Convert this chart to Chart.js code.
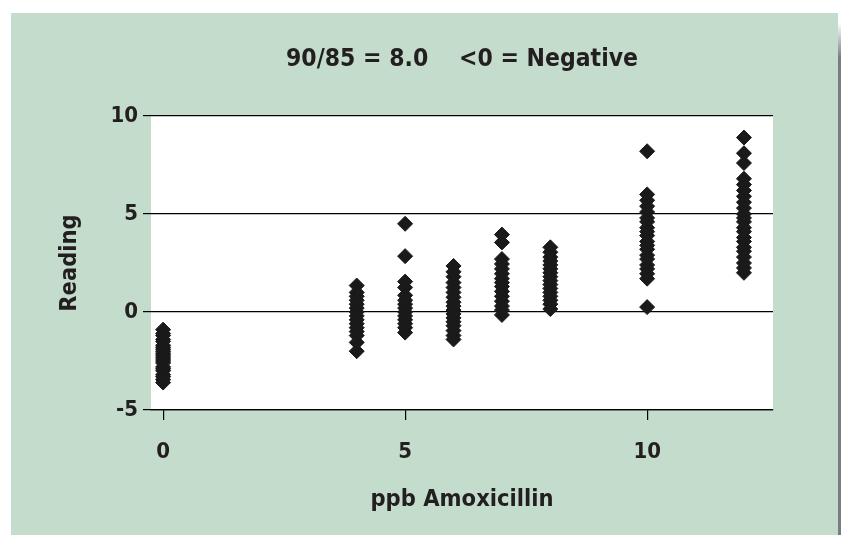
<!DOCTYPE html>
<html lang="en">
<head>
    <meta charset="UTF-8">
    <title>Reading vs ppb Amoxicillin</title>
    <script src="https://cdn.jsdelivr.net/npm/chart.js"></script>
    <style>
        body {
            margin: 0;
            background-color: #ffffff;
            width: 841px;
            height: 535px;
            overflow: hidden;
            position: relative;
        }

        .panel {
            position: absolute;
            left: 11px;
            top: 13px;
            width: 827px;
            height: 522px;
            background-color: #c3dccb;
        }

        .shadow {
            position: absolute;
            left: 838px;
            top: 13px;
            width: 3px;
            height: 522px;
            background: linear-gradient(to bottom, #ffffff 0px, #ffffff 10px, #7b7c82 45px);
        }

        .chart-box {
            position: absolute;
            left: 0;
            top: 0;
            width: 841px;
            height: 535px;
        }
    </style>
</head>
<body>
    <div class="panel"></div>
    <div class="shadow"></div>
    <div class="chart-box"><canvas id="chart"></canvas></div>
    <script>
        // ppb Amoxicillin levels and the readings measured at each
        const doses = [0, 4, 5, 6, 7, 8, 10, 12];
        const reading0 = [-0.9, -1.1, -1.2, -1.4, -1.5, -1.7, -1.8, -1.9, -2.0, -2.1, -2.2, -2.3, -2.4, -2.5, -2.6, -2.8, -2.9, -3.0, -3.2, -3.3, -3.45, -3.6];
        const reading4 = [1.35, 1.0, 0.8, 0.6, 0.4, 0.2, 0.0, -0.2, -0.4, -0.6, -0.8, -1.0, -1.2, -1.55, -2.0];
        const reading5 = [4.5, 2.85, 1.55, 1.25, 0.85, 0.6, 0.4, 0.2, 0.0, -0.2, -0.4, -0.6, -0.8, -1.05];
        const reading6 = [2.35, 2.05, 1.8, 1.5, 1.25, 1.0, 0.75, 0.5, 0.3, 0.1, -0.1, -0.3, -0.5, -0.7, -0.95, -1.2, -1.4];
        const reading7 = [3.95, 3.55, 2.7, 2.45, 2.2, 1.95, 1.7, 1.5, 1.3, 1.05, 0.8, 0.55, 0.3, 0.1, -0.15];
        const reading8 = [3.3, 3.05, 2.8, 2.6, 2.4, 2.2, 2.0, 1.8, 1.6, 1.4, 1.2, 1.0, 0.8, 0.6, 0.4, 0.15];
        const reading10 = [8.2, 6.0, 5.7, 5.4, 5.1, 4.8, 4.6, 4.3, 4.1, 3.9, 3.6, 3.4, 3.2, 2.9, 2.7, 2.4, 2.2, 1.95, 1.7, 0.25];
        const reading12 = [8.9, 8.1, 7.6, 6.8, 6.5, 6.2, 5.9, 5.6, 5.3, 5.0, 4.8, 4.6, 4.3, 4.1, 3.8, 3.6, 3.3, 3.1, 2.8, 2.5, 2.25, 2.0];
        const xTickValues = [0, 5, 10];
        const yTickValues = [-5, 0, 5, 10];

        const titleText = '90/85 = 8.0    <0 = Negative';
        const xTitle = 'ppb Amoxicillin';
        const yTitle = 'Reading';

        const readingsByDose = [reading0, reading4, reading5, reading6, reading7, reading8, reading10, reading12];
        const points = [];
        doses.forEach((dose, i) => {
            readingsByDose[i].forEach(r => points.push({ x: dose, y: r }));
        });

        const ink = '#231f20';
        Chart.defaults.font.family = "'Liberation Sans Narrow', 'DejaVu Sans Condensed', 'Roboto', sans-serif";
        Chart.defaults.font.weight = 'bold';
        Chart.defaults.color = ink;

        // White plot area on the green panel
        const plotBackground = {
            id: 'plotBackground',
            beforeDraw(chart) {
                const { ctx, chartArea } = chart;
                ctx.save();
                ctx.fillStyle = '#ffffff';
                ctx.fillRect(chartArea.left, chartArea.top, chartArea.right - chartArea.left, chartArea.bottom - chartArea.top);
                ctx.restore();
            }
        };

        new Chart(document.getElementById('chart').getContext('2d'), {
            type: 'scatter',
            data: {
                datasets: [{
                    data: points,
                    pointStyle: 'rectRot',
                    pointRadius: 7.5,
                    pointHoverRadius: 7.5,
                    backgroundColor: '#1a1a1a',
                    borderColor: '#1a1a1a',
                    borderWidth: 1
                }]
            },
            options: {
                responsive: true,
                maintainAspectRatio: false,
                animation: false,
                layout: {
                    padding: { left: 0, right: 68, top: 0, bottom: 0 }
                },
                plugins: {
                    legend: { display: false },
                    tooltip: { enabled: false },
                    title: {
                        display: true,
                        text: titleText,
                        fullSize: false,
                        color: ink,
                        font: { size: 24.5, weight: 'bold' },
                        padding: { top: 45, bottom: 41.6 }
                    }
                },
                scales: {
                    x: {
                        type: 'linear',
                        min: -0.25,
                        max: 12.6,
                        afterBuildTicks: scale => {
                            scale.ticks = xTickValues.map(v => ({ value: v }));
                        },
                        afterFit: scale => { scale.height = 125; },
                        grid: {
                            drawOnChartArea: false,
                            drawTicks: true,
                            tickLength: 10,
                            color: '#000000',
                            lineWidth: 1.2
                        },
                        border: { display: true, color: '#000000', width: 1.2 },
                        ticks: {
                            padding: 19,
                            color: ink,
                            font: { size: 22, weight: 'bold' }
                        },
                        title: {
                            display: true,
                            text: xTitle,
                            color: ink,
                            font: { size: 23.5, weight: 'bold' },
                            padding: { top: 0, bottom: 21 }
                        }
                    },
                    y: {
                        type: 'linear',
                        min: -5,
                        max: 10,
                        afterBuildTicks: scale => {
                            scale.ticks = yTickValues.map(v => ({ value: v }));
                        },
                        afterFit: scale => { scale.width = 151; },
                        grid: {
                            color: '#000000',
                            lineWidth: 1.2,
                            tickLength: 8
                        },
                        border: { display: false },
                        ticks: {
                            padding: 5,
                            color: ink,
                            font: { size: 22, weight: 'bold' }
                        },
                        title: {
                            display: true,
                            text: yTitle,
                            color: ink,
                            font: { size: 23.5, weight: 'bold' },
                            padding: { top: 56, bottom: 0 }
                        }
                    }
                }
            },
            plugins: [plotBackground]
        });
    </script>
</body>
</html>
